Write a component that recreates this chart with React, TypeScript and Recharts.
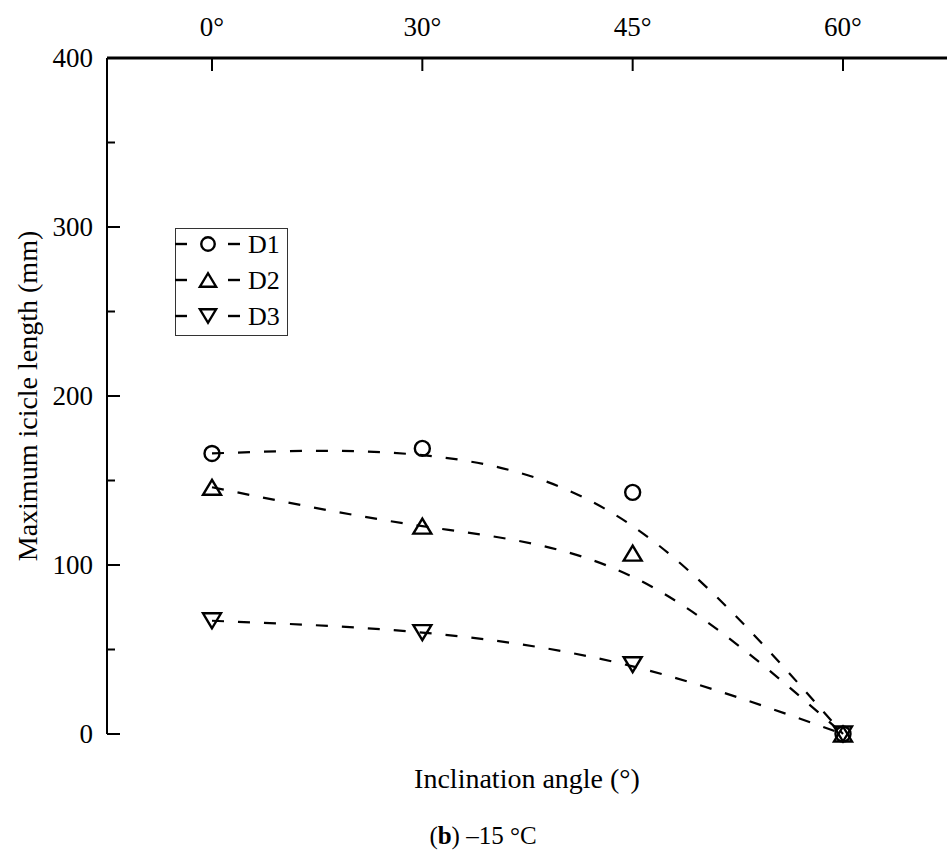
import React from 'react';
import { LineChart, Line, XAxis, YAxis, Legend } from 'recharts';

const FONT = '"Liberation Serif", "Times New Roman", serif';
const INK = '#000';

// inclination angles (top axis categories)
const ANGLES = ['0°', '30°', '45°', '60°'];

// measured maximum icicle length, mm
const D1 = [166, 169, 143, 0];
const D2 = [146, 123, 107, 0];
const D3 = [67, 60, 41, 0];

// fitted trend curves
const D1_FIT = [166, 165, 123, 0];
const D2_FIT = [146, 123, 93, 0];
const D3_FIT = [67, 60, 40, 0];

const Y_TICKS = [0, 50, 100, 150, 200, 250, 300, 350, 400];

const SERIES = [
  { key: 'd1', name: 'D1', marker: 'circle' },
  { key: 'd2', name: 'D2', marker: 'up' },
  { key: 'd3', name: 'D3', marker: 'down' },
];

const data = ANGLES.map((angle, i) => ({
  angle,
  d1: D1[i],
  d2: D2[i],
  d3: D3[i],
  d1Fit: D1_FIT[i],
  d2Fit: D2_FIT[i],
  d3Fit: D3_FIT[i],
}));

const Marker = ({ kind, cx, cy, scale = 1 }: any) => {
  if (cx == null || cy == null) return null;
  if (kind === 'circle') {
    return <circle cx={cx} cy={cy} r={7.5 * scale} fill="none" stroke={INK} strokeWidth={2.4} />;
  }
  const hw = 9 * scale;
  const hh = 7.5 * scale;
  const s = kind === 'up' ? 1 : -1;
  const pts = `${cx},${cy - s * hh} ${cx - hw},${cy + s * hh} ${cx + hw},${cy + s * hh}`;
  return <polygon points={pts} fill="none" stroke={INK} strokeWidth={2.4} strokeLinejoin="miter" />;
};

const TopTick = ({ x, y, payload }: any) => (
  <g>
    <line x1={x} y1={y} x2={x} y2={y + 13} stroke={INK} strokeWidth={2} />
    <text x={x} y={y - 22} textAnchor="middle" fontSize={27} fontFamily={FONT} fill={INK}>
      {payload.value}
    </text>
  </g>
);

const LeftTick = ({ x, y, payload }: any) => {
  const v = payload.value;
  const major = v % 100 === 0;
  return (
    <g>
      <line x1={x} y1={y} x2={x + (major ? 13 : 8)} y2={y} stroke={INK} strokeWidth={2} />
      {major && (
        <text x={x - 14} y={y} dy="0.34em" textAnchor="end" fontSize={27} fontFamily={FONT} fill={INK}>
          {v}
        </text>
      )}
    </g>
  );
};

const YTitle = ({ viewBox }: any) => {
  const x = viewBox.x - 10;
  const y = viewBox.y + viewBox.height / 2;
  return (
    <text x={x} y={y} transform={`rotate(-90, ${x}, ${y})`} textAnchor="middle" fontSize={28} fontFamily={FONT} fill={INK}>
      Maximum icicle length (mm)
    </text>
  );
};

const LegendBox = () => (
  <svg width={113} height={108} style={{ display: 'block' }}>
    <rect x={0.5} y={0.5} width={112} height={107} fill="#fff" stroke="#333" strokeWidth={1} />
    {SERIES.map((s, i) => {
      const cy = 16 + i * 36;
      return (
        <g key={s.key}>
          <line x1={0} y1={cy} x2={12} y2={cy} stroke={INK} strokeWidth={2.4} />
          <Marker kind={s.marker} cx={33} cy={cy} scale={0.9} />
          <line x1={53} y1={cy} x2={65} y2={cy} stroke={INK} strokeWidth={2.4} />
          <text x={73} y={cy + 9} fontSize={26} fontFamily={FONT} fill={INK}>
            {s.name}
          </text>
        </g>
      );
    })}
  </svg>
);

export default function App() {
  return (
    <div style={{ position: 'absolute', left: 0, top: 0, width: 947, height: 855, background: '#fff' }}>
      <LineChart width={947} height={855} data={data} margin={{ top: 18, right: 0, bottom: 121, left: 47 }}>
        <XAxis
          dataKey="angle"
          orientation="top"
          height={40}
          interval={0}
          padding={{ left: 105, right: 104 }}
          axisLine={{ stroke: INK, strokeWidth: 3 }}
          tickLine={false}
          tickSize={0}
          tickMargin={0}
          tick={(p: any) => <TopTick {...p} />}
        />
        <YAxis
          type="number"
          domain={[0, 400]}
          ticks={Y_TICKS}
          interval={0}
          width={60}
          axisLine={{ stroke: INK, strokeWidth: 2 }}
          tickLine={false}
          tickSize={0}
          tickMargin={0}
          tick={(p: any) => <LeftTick {...p} />}
          label={(p: any) => <YTitle {...p} />}
        />
        <Legend
          layout="horizontal"
          verticalAlign="middle"
          align="center"
          wrapperStyle={{ left: 175, top: 228, width: 113, height: 108 }}
          content={() => <LegendBox />}
        />
        {SERIES.map((s) => (
          <Line
            key={s.key}
            dataKey={s.key}
            stroke="none"
            legendType="none"
            isAnimationActive={false}
            activeDot={false}
            dot={(p: any) => <Marker key={`${s.key}-${p.index}`} kind={s.marker} cx={p.cx} cy={p.cy} />}
          />
        ))}
        {SERIES.map((s) => (
          <Line
            key={`${s.key}Fit`}
            type="natural"
            dataKey={`${s.key}Fit`}
            stroke={INK}
            strokeWidth={2.2}
            strokeDasharray="12 14"
            legendType="none"
            isAnimationActive={false}
            activeDot={false}
            dot={false}
          />
        ))}
      </LineChart>
      <svg width={947} height={855} style={{ position: 'absolute', left: 0, top: 0, pointerEvents: 'none' }}>
        <text x={527} y={788} textAnchor="middle" fontSize={28} fontFamily={FONT} fill={INK}>
          Inclination angle (°)
        </text>
        <text x={483} y={844} textAnchor="middle" fontSize={25} fontFamily={FONT} fill={INK}>
          (<tspan fontWeight="bold">b</tspan>) –15 °C
        </text>
      </svg>
    </div>
  );
}
